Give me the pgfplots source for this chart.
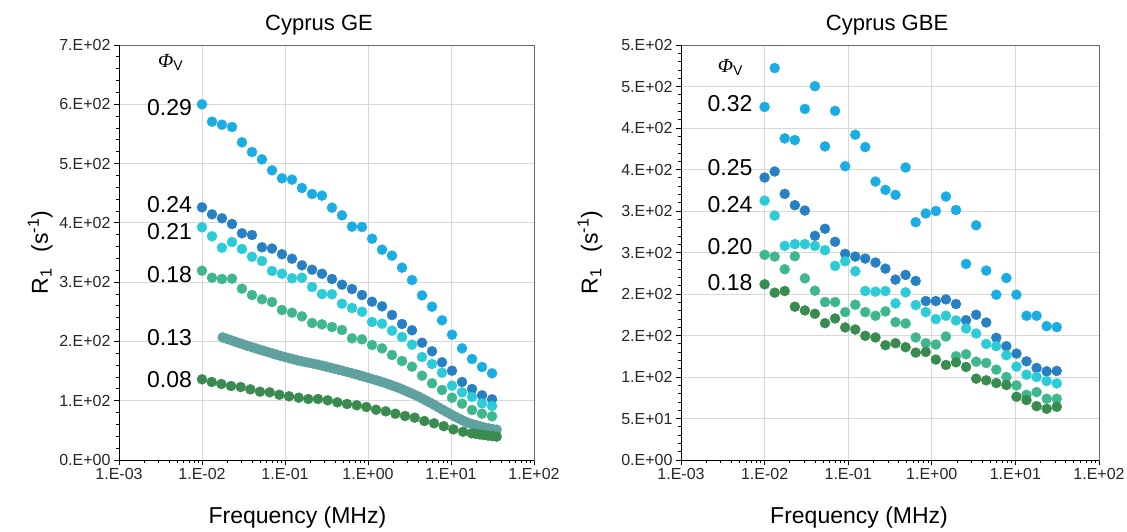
\documentclass[border=0pt]{standalone}
\usepackage{fontspec}
\setmainfont{Liberation Sans}
\newfontfamily\phifont{Liberation Serif}
\usepackage{pgfplots}
\usepackage{pgfplotstable}
\pgfplotsset{compat=1.18}
\definecolor{cLight}{HTML}{1AADE4}
\definecolor{cDark}{HTML}{2880C4}
\definecolor{cCyan}{HTML}{2BCCD8}
\definecolor{cTeal}{HTML}{3EB78F}
\definecolor{cGray}{HTML}{5FA19E}
\definecolor{cGreen}{HTML}{3A8B50}
\definecolor{gridc}{HTML}{D9D9D9}
\definecolor{tickc}{HTML}{262626}

% GE, regular frequency grid
\pgfplotstableread{
f      p29    p24    p21    p18
0.0100 600.0  426.2  392.5  319.3
0.0132 570.7  414.4  377.3  307.5
0.0174 565.6  407.7  358.1  305.3
0.0230 561.7  398.1  367.7  305.8
0.0303 535.8  382.4  355.9  289.0
0.0400 519.5  379.5  342.9  278.3
0.0528 507.1  358.8  335.7  271.0
0.0697 488.6  356.7  318.8  266.5
0.0920 475.1  347.1  314.2  253.0
0.1215 472.9  339.5  306.5  248.5
0.160  458.8  328.4  307.5  242.3
0.212  448.7  321.0  291.8  231.1
0.279  445.9  314.2  280.0  228.8
0.368  425.6  305.3  279.5  224.3
0.486  412.7  295.7  263.6  219.3
0.642  393.6  288.4  256.4  205.2
0.847  393.0  278.3  250.1  203.5
1.118  373.3  267.0  232.8  194.0
1.476  354.8  259.2  229.9  188.3
1.948  344.7  244.6  218.1  177.1
2.570  324.4  229.4  207.5  167.0
3.393  303.6  218.8  194.5  157.4
4.477  277.7  197.8  173.7  142.2
5.909  258.6  183.3  161.9  129.3
7.798  235.6  164.8  147.2  118.1
10.29  211.4  150.6  125.3  105.1
13.58  188.3  131.6  114.2   95.0
17.93  170.4  119.8  106.3   84.3
23.66  156.9  109.1   95.6   78.1
31.23  146.2  102.4   91.1   73.7
}\geA

% GE, phi = 0.13 (dense)
\pgfplotstableread{
f       r
0.01778 206.8
0.01995 204.4
0.02239 202.0
0.02512 199.6
0.02818 197.2
0.03162 194.9
0.03548 192.5
0.03981 190.3
0.04467 188.2
0.05012 186.0
0.05623 183.9
0.0631  181.8
0.07079 179.7
0.07943 177.6
0.08913 175.5
0.1000  173.6
0.1122  171.8
0.1259  169.9
0.1413  168.1
0.1585  166.5
0.1778  165.1
0.1995  163.7
0.2239  162.3
0.2512  160.8
0.2818  159.1
0.3162  157.4
0.3548  155.7
0.3981  153.9
0.4467  152.1
0.5012  150.3
0.5623  148.5
0.6310  146.6
0.7079  144.7
0.7943  142.7
0.8913  140.7
1.000   138.7
1.122   136.6
1.259   134.5
1.413   132.4
1.585   130.2
1.778   127.7
1.995   125.2
2.239   122.7
2.512   120.0
2.818   116.9
3.162   113.9
3.548   110.8
3.981   107.6
4.467   103.9
5.012   100.3
5.623    96.6
6.310    92.8
7.079    88.8
7.943    84.7
8.913    80.7
10.00    76.8
11.22    73.1
12.59    69.6
14.13    66.1
15.85    63.0
17.78    60.9
19.95    58.8
22.39    56.7
25.12    54.8
28.18    53.6
31.62    52.3
35.48    51.1
}\geB

% GE, phi = 0.08
\pgfplotstableread{
f       r
0.0100  136.1
0.01308 131.6
0.0171  128.2
0.02237 124.8
0.02924 123.1
0.03824 119.2
0.0500  115.2
0.0654  114.2
0.0855  110.1
0.1118  107.4
0.1462  105.1
0.1912  102.9
0.2500  102.9
0.3269  100.7
0.4276   97.3
0.5591   94.5
0.7311   92.3
0.9561   89.4
1.250    84.8
1.635    82.1
2.138    78.1
2.796    74.2
3.656    71.3
4.781    65.8
6.252    61.9
8.176    57.0
10.69    51.7
13.98    47.7
17.78    45.0
19.95    44.0
22.39    43.0
25.12    42.0
28.18    41.0
31.62    40.3
35.48    39.5
}\geC

% GBE
\pgfplotstableread{
f      p32    p25    p24    p20    p18
0.0100 425.4  340.3  312.5  247.2  211.7
0.0132 472.2  347.6  294.5  245.1  201.6
0.0174 387.5  320.6  258.0  229.8  203.6
0.0230 385.5  307.0  260.1  245.5  184.7
0.0303 423.0  300.6  260.1  218.9  180.2
0.0400 450.4  270.1  258.0  204.0  176.2
0.0528 377.8  278.6  252.8  190.3  164.9
0.0697 420.6  262.9  233.9  190.3  170.5
0.0920 354.0  248.4  239.5  178.2  159.7
0.1215 391.9  245.1  227.4  187.1  157.2
0.160  377.0  242.7  203.6  178.2  149.6
0.212  335.5  237.9  202.8  173.8  147.6
0.279  325.4  230.6  203.6  179.0  138.3
0.368  319.4  217.3  188.7  166.1  140.7
0.486  352.4  223.0  202.0  164.5  135.9
0.642  286.5  215.7  186.7  147.6  129.4
0.847  297.0  191.5  178.2  140.7  130.2
1.118  300.0  191.5  169.7  139.1  121.0
1.476  317.4  193.5  173.8  148.8  114.5
1.948  301.2  187.9  168.1  125.0  117.7
2.570  236.3  168.5  158.5  127.4  112.1
3.393  282.8  175.0  152.4  118.5   98.0
4.477  228.2  165.7  139.9  116.9   96.0
5.909  199.2  147.2  137.1  108.9   92.7
7.798  219.3  137.1  126.2  100.0   90.3
10.29  199.2  128.2  112.5   89.9   76.2
13.58  173.8  118.9  102.8   78.6   72.2
17.93  173.8  110.9  100.0   81.8   64.9
23.66  161.3  106.8   95.2   73.8   61.7
31.23  160.1  107.3   92.3   73.8   64.1
}\gbe

\tikzset{lab/.style={anchor=east, inner sep=0pt, font=\fontsize{23}{27}\selectfont},
  philab/.style={font=\fontsize{20}{24}\selectfont}}
\newcommand{\PhiV}{{\phifont\itshape Φ}\textsubscript{V}}

\begin{document}
\begin{tikzpicture}
\useasboundingbox (0,0) rectangle (1127pt,531pt);

\begin{axis}[at={(119pt,71pt)}, anchor=south west,
  scale only axis, width=415pt, height=415pt,
  xmode=log, xmin=0.001, xmax=100,
  xtick={0.001,0.01,0.1,1,10,100},
  xticklabels={1.E-03,1.E-02,1.E-01,1.E+00,1.E+01,1.E+02},
  minor xtick={0.002,0.003,0.004,0.005,0.006,0.007,0.008,0.009,0.02,0.03,0.04,0.05,0.06,0.07,0.08,0.09,0.2,0.3,0.4,0.5,0.6,0.7,0.8,0.9,2,3,4,5,6,7,8,9,20,30,40,50,60,70,80,90},
  ymin=0, ymax=700,
  ytick={0,100,200,300,400,500,600,700},
  yticklabels={0.E+00,1.E+02,2.E+02,3.E+02,4.E+02,5.E+02,6.E+02,7.E+02},
  minor y tick num=4,
  tick align=outside, tick pos=left,
  major tick length=5pt, minor tick length=3pt,
  xmajorgrids, ymajorgrids, major grid style={draw=gridc, line width=0.9pt},
  axis line style={draw=black!60, line width=0.9pt},
  tick style={black, line width=0.8pt},
  tick label style={font=\fontsize{16}{19}\selectfont, text=tickc},
  title={Cyprus GE},
  title style={font=\fontsize{22}{26}\selectfont, at={(axis description cs:0.482,1)}, anchor=south},
  xlabel={Frequency (MHz)},
  xlabel style={font=\fontsize{23}{27}\selectfont, at={(axis description cs:0.43,0)}, anchor=center, yshift=-58pt},
  ylabel={R\textsubscript{1}\hspace{0.7em}(s\textsuperscript{-1})},
  ylabel style={font=\fontsize{23}{27}\selectfont, at={(axis description cs:-0.19,0.5)}, anchor=center},
]
\addplot[only marks, mark=*, mark size=5pt, color=cLight] table[x=f, y=p29] {\geA};
\addplot[only marks, mark=*, mark size=5pt, color=cDark]  table[x=f, y=p24] {\geA};
\addplot[only marks, mark=*, mark size=5pt, color=cCyan]  table[x=f, y=p21] {\geA};
\addplot[only marks, mark=*, mark size=5pt, color=cTeal]  table[x=f, y=p18] {\geA};
\addplot[only marks, mark=*, mark size=5pt, color=cGray]  table[x=f, y=r] {\geB};
\addplot[only marks, mark=*, mark size=5pt, color=cGreen] table[x=f, y=r] {\geC};
\node[lab] at (axis cs:0.0076,594) {0.29};
\node[lab] at (axis cs:0.0076,431) {0.24};
\node[lab] at (axis cs:0.0076,386) {0.21};
\node[lab] at (axis cs:0.0076,313) {0.18};
\node[lab] at (axis cs:0.0076,207) {0.13};
\node[lab] at (axis cs:0.0076,135) {0.08};
\node[philab] at (axis cs:0.0042,670) {\PhiV};
\draw[black, line width=0.9pt] (rel axis cs:0,1) -- (rel axis cs:0,0) -- (rel axis cs:1,0);
\end{axis}

\begin{axis}[at={(681pt,71pt)}, anchor=south west,
  scale only axis, width=418pt, height=415pt,
  xmode=log, xmin=0.001, xmax=100,
  xtick={0.001,0.01,0.1,1,10,100},
  xticklabels={1.E-03,1.E-02,1.E-01,1.E+00,1.E+01,1.E+02},
  minor xtick={0.002,0.003,0.004,0.005,0.006,0.007,0.008,0.009,0.02,0.03,0.04,0.05,0.06,0.07,0.08,0.09,0.2,0.3,0.4,0.5,0.6,0.7,0.8,0.9,2,3,4,5,6,7,8,9,20,30,40,50,60,70,80,90},
  ymin=0, ymax=500,
  ytick={0,50,100,150,200,250,300,350,400,450,500},
  yticklabels={0.E+00,5.E+01,1.E+02,2.E+02,2.E+02,3.E+02,3.E+02,4.E+02,4.E+02,5.E+02,5.E+02},
  minor y tick num=4,
  tick align=outside, tick pos=left,
  major tick length=5pt, minor tick length=3pt,
  xmajorgrids, ymajorgrids, major grid style={draw=gridc, line width=0.9pt},
  axis line style={draw=black!60, line width=0.9pt},
  tick style={black, line width=0.8pt},
  tick label style={font=\fontsize{16}{19}\selectfont, text=tickc},
  title={Cyprus GBE},
  title style={font=\fontsize{22}{26}\selectfont, at={(axis description cs:0.493,1)}, anchor=south},
  xlabel={Frequency (MHz)},
  xlabel style={font=\fontsize{23}{27}\selectfont, at={(axis description cs:0.426,0)}, anchor=center, yshift=-58pt},
  ylabel={R\textsubscript{1}\hspace{0.7em}(s\textsuperscript{-1})},
  ylabel style={font=\fontsize{23}{27}\selectfont, at={(axis description cs:-0.218,0.5)}, anchor=center},
]
\addplot[only marks, mark=*, mark size=5pt, color=cLight] table[x=f, y=p32] {\gbe};
\addplot[only marks, mark=*, mark size=5pt, color=cDark]  table[x=f, y=p25] {\gbe};
\addplot[only marks, mark=*, mark size=5pt, color=cCyan]  table[x=f, y=p24] {\gbe};
\addplot[only marks, mark=*, mark size=5pt, color=cTeal]  table[x=f, y=p20] {\gbe};
\addplot[only marks, mark=*, mark size=5pt, color=cGreen] table[x=f, y=p18] {\gbe};
\node[lab] at (axis cs:0.0072,429) {0.32};
\node[lab] at (axis cs:0.0072,352) {0.25};
\node[lab] at (axis cs:0.0072,308) {0.24};
\node[lab] at (axis cs:0.0072,257) {0.20};
\node[lab] at (axis cs:0.0072,214) {0.18};
\node[philab] at (axis cs:0.0039,473) {\PhiV};
\draw[black, line width=0.9pt] (rel axis cs:0,1) -- (rel axis cs:0,0) -- (rel axis cs:1,0);
\end{axis}
\end{tikzpicture}
\end{document}
